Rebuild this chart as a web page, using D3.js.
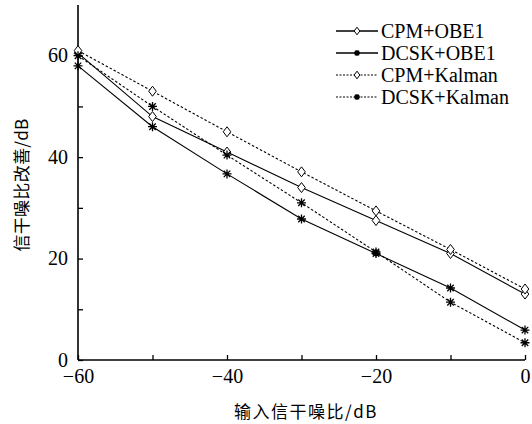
<!DOCTYPE html>
<html>
<head>
<meta charset="utf-8">
<script src="https://cdn.jsdelivr.net/npm/d3@7"></script>
</head>
<body style="margin:0">
<svg id="chart" width="532" height="424"></svg>
<script>
// Input SINR (dB)
const inputSINR = [-60, -50, -40, -30, -20, -10, 0];

// SINR improvement (dB) for each scheme
const cpmOBE1     = [60.5, 48, 41, 34, 27.5, 21, 13];
const dcskOBE1    = [58, 46, 36.7, 27.8, 21, 14.2, 5.9];
const cpmKalman   = [61, 53, 45, 37.1, 29.4, 21.8, 14];
const dcskKalman  = [60, 50, 40.4, 31, 21.3, 11.4, 3.4];

const seriesNames = ["CPM+OBE1", "DCSK+OBE1", "CPM+Kalman", "DCSK+Kalman"];
const seriesValues = [cpmOBE1, dcskOBE1, cpmKalman, dcskKalman];
const seriesMarker = ["diamond", "star", "diamond", "star"];
const seriesDashed = [false, false, true, true];

const xTicks = [-60, -50, -40, -30, -20, -10, 0];
const xTickLabels = ["\u221260", "", "\u221240", "", "\u221220", "", "0"];
const yTicks = [0, 10, 20, 30, 40, 50, 60];
const yTickLabels = ["0", "", "20", "", "40", "", "60"];

const xTitle = "输入信干噪比/dB";
const yTitle = "信干噪比改善/dB";

const SERIF = "'Liberation Serif'";
const CJK = "'Noto Sans CJK SC'";

const svg = d3.select("#chart");
const x = d3.scaleLinear().domain([-60, 0]).range([78, 525]);
const y = d3.scaleLinear().domain([0, 70]).range([360, 5]);

// axes with inward ticks
const xAxis = d3.axisBottom(x).tickValues(xTicks).tickSize(-5)
  .tickFormat((d, i) => xTickLabels[i]).tickPadding(9);
const yAxis = d3.axisLeft(y).tickValues(yTicks).tickSize(-5)
  .tickFormat((d, i) => yTickLabels[i]).tickPadding(10);

const gx = svg.append("g").attr("transform", `translate(0,${y(0)})`).call(xAxis);
const gy = svg.append("g").attr("transform", `translate(${x(-60)},0)`).call(yAxis);

[gx, gy].forEach(g => {
  g.select(".domain").attr("stroke", "#000").attr("stroke-width", 1.6);
  g.selectAll(".tick line").attr("stroke", "#000").attr("stroke-width", 1.3);
  g.selectAll(".tick text").attr("fill", "#000")
    .style("font-family", SERIF).style("font-size", "20px");
});
gx.select(".domain").attr("d", `M${x(-60)},0H${x(0)}`);
gy.select(".domain").attr("d", `M0,${y(0)}V${y(70)}`);
gx.selectAll(".tick text").attr("dy", "0.71em");
gy.selectAll(".tick text").attr("dy", "0.3em");

// marker shapes
function diamondPath(w, h) {
  return `M0,${-h}L${w},0L0,${h}L${-w},0Z`;
}
function starPath(s) {
  const r = s / 2, d = r * 0.72;
  return `M0,${-r}V${r}M${-r},0H${r}M${-d},${-d}L${d},${d}M${-d},${d}L${d},${-d}`;
}

const line = d3.line().x(d => x(d[0])).y(d => y(d[1]));

seriesValues.forEach((vals, i) => {
  const pts = inputSINR.map((v, j) => [v, vals[j]]);
  svg.append("path").datum(pts)
    .attr("d", line)
    .attr("fill", "none")
    .attr("stroke", "#000")
    .attr("stroke-width", 1.1)
    .attr("stroke-dasharray", seriesDashed[i] ? "2.5,2" : null);
  const g = svg.append("g");
  g.selectAll("path").data(pts).join("path")
    .attr("transform", d => `translate(${x(d[0])},${y(d[1])})`)
    .attr("d", seriesMarker[i] === "diamond" ? diamondPath(3.8, 5) : starPath(9))
    .attr("fill", seriesMarker[i] === "diamond" ? "#fff" : "none")
    .attr("stroke", "#000")
    .attr("stroke-width", seriesMarker[i] === "diamond" ? 1 : 1.3);
});

// legend
const legend = svg.append("g").attr("transform", "translate(336,31)");
seriesNames.forEach((name, i) => {
  const row = legend.append("g").attr("transform", `translate(0,${i * 22})`);
  row.append("line").attr("x1", 0).attr("x2", 42).attr("y1", 0).attr("y2", 0)
    .attr("stroke", "#000").attr("stroke-width", seriesDashed[i] ? 1 : 1.3)
    .attr("stroke-dasharray", seriesDashed[i] ? "2,1.5" : null);
  row.append("path").attr("transform", "translate(21,0)")
    .attr("d", seriesMarker[i] === "diamond" ? diamondPath(2.8, 3.8) : starPath(6))
    .attr("fill", "#fff").attr("stroke", "#000")
    .attr("stroke-width", seriesMarker[i] === "diamond" ? 1 : 1.4);
  row.append("text").attr("x", 45).attr("y", 0)
    .attr("dy", "0.34em").style("font-family", SERIF)
    .style("font-size", "20px").attr("fill", "#000")
    .text(name);
});

// axis titles
svg.append("text")
  .attr("x", 306).attr("y", 412).attr("dy", "0.35em")
  .attr("text-anchor", "middle").style("font-family", CJK).style("font-size", "17px")
  .style("letter-spacing", "1.5px").attr("fill", "#000").text(xTitle);
svg.append("text")
  .attr("transform", "translate(22,185) rotate(-90)").attr("dy", "0.35em")
  .attr("text-anchor", "middle").style("font-family", CJK).style("font-size", "17px")
  .style("letter-spacing", "0.3px").attr("fill", "#000").text(yTitle);
</script>
</body>
</html>
